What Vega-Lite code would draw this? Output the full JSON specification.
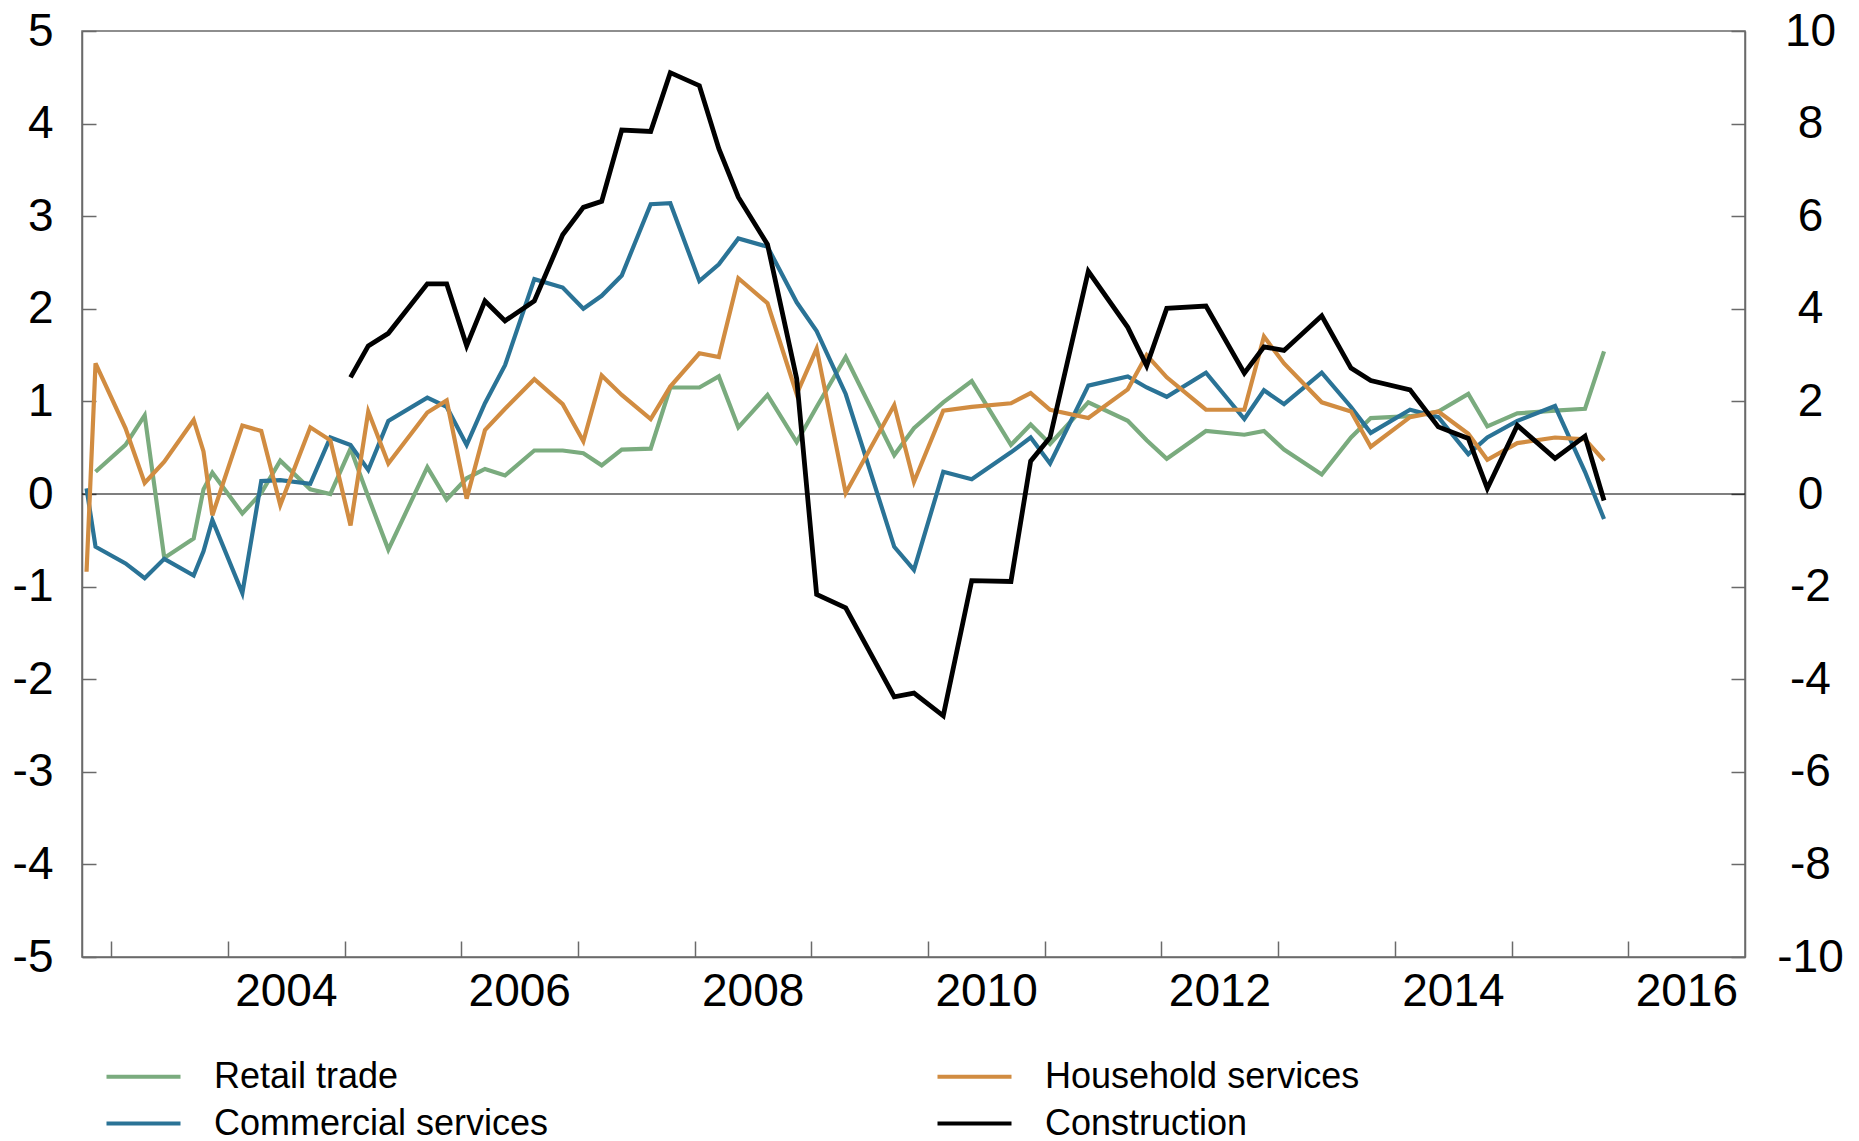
{
  "$schema": "https://vega.github.io/schema/vega-lite/v6.json",
  "width": 1663,
  "height": 926,
  "autosize": {"type": "none"},
  "padding": {"left": 82, "top": 31, "right": 114, "bottom": 184},
  "background": "white",
  "config": {
    "font": "Liberation Sans",
    "view": {"stroke": "#6a6a6a", "strokeWidth": 1.5},
    "axis": {
      "grid": false,
      "domainColor": "#6a6a6a",
      "domainWidth": 1.5,
      "tickColor": "#6a6a6a",
      "tickWidth": 1.5,
      "labelFont": "Liberation Sans",
      "labelFontSize": 46,
      "labelColor": "#000000",
      "labelFlush": false,
      "labelOverlap": false,
      "title": null
    }
  },
  "datasets": {
    "left": [
      {"series": "Retail trade", "year": 2002.866, "value": 0.24},
      {"series": "Retail trade", "year": 2003.123, "value": 0.53},
      {"series": "Retail trade", "year": 2003.287, "value": 0.85},
      {"series": "Retail trade", "year": 2003.455, "value": -0.69},
      {"series": "Retail trade", "year": 2003.707, "value": -0.48},
      {"series": "Retail trade", "year": 2003.791, "value": 0.05},
      {"series": "Retail trade", "year": 2003.867, "value": 0.23},
      {"series": "Retail trade", "year": 2004.124, "value": -0.21},
      {"series": "Retail trade", "year": 2004.286, "value": 0.01},
      {"series": "Retail trade", "year": 2004.449, "value": 0.36},
      {"series": "Retail trade", "year": 2004.706, "value": 0.05},
      {"series": "Retail trade", "year": 2004.878, "value": 0.0},
      {"series": "Retail trade", "year": 2005.051, "value": 0.49},
      {"series": "Retail trade", "year": 2005.203, "value": -0.03},
      {"series": "Retail trade", "year": 2005.375, "value": -0.6},
      {"series": "Retail trade", "year": 2005.709, "value": 0.29},
      {"series": "Retail trade", "year": 2005.875, "value": -0.06},
      {"series": "Retail trade", "year": 2006.046, "value": 0.17},
      {"series": "Retail trade", "year": 2006.203, "value": 0.27},
      {"series": "Retail trade", "year": 2006.375, "value": 0.2},
      {"series": "Retail trade", "year": 2006.626, "value": 0.47},
      {"series": "Retail trade", "year": 2006.869, "value": 0.47},
      {"series": "Retail trade", "year": 2007.046, "value": 0.44},
      {"series": "Retail trade", "year": 2007.203, "value": 0.31},
      {"series": "Retail trade", "year": 2007.375, "value": 0.48},
      {"series": "Retail trade", "year": 2007.623, "value": 0.49},
      {"series": "Retail trade", "year": 2007.791, "value": 1.15},
      {"series": "Retail trade", "year": 2008.04, "value": 1.15},
      {"series": "Retail trade", "year": 2008.207, "value": 1.27},
      {"series": "Retail trade", "year": 2008.374, "value": 0.72},
      {"series": "Retail trade", "year": 2008.624, "value": 1.07},
      {"series": "Retail trade", "year": 2008.874, "value": 0.56},
      {"series": "Retail trade", "year": 2009.045, "value": 0.94},
      {"series": "Retail trade", "year": 2009.294, "value": 1.48},
      {"series": "Retail trade", "year": 2009.71, "value": 0.42},
      {"series": "Retail trade", "year": 2009.879, "value": 0.71},
      {"series": "Retail trade", "year": 2010.13, "value": 0.99},
      {"series": "Retail trade", "year": 2010.374, "value": 1.22},
      {"series": "Retail trade", "year": 2010.71, "value": 0.53},
      {"series": "Retail trade", "year": 2010.879, "value": 0.75},
      {"series": "Retail trade", "year": 2011.045, "value": 0.54},
      {"series": "Retail trade", "year": 2011.373, "value": 0.99},
      {"series": "Retail trade", "year": 2011.711, "value": 0.79},
      {"series": "Retail trade", "year": 2011.873, "value": 0.58},
      {"series": "Retail trade", "year": 2012.045, "value": 0.38},
      {"series": "Retail trade", "year": 2012.381, "value": 0.68},
      {"series": "Retail trade", "year": 2012.71, "value": 0.64},
      {"series": "Retail trade", "year": 2012.878, "value": 0.68},
      {"series": "Retail trade", "year": 2013.05, "value": 0.48},
      {"series": "Retail trade", "year": 2013.373, "value": 0.21},
      {"series": "Retail trade", "year": 2013.624, "value": 0.61},
      {"series": "Retail trade", "year": 2013.793, "value": 0.82},
      {"series": "Retail trade", "year": 2014.13, "value": 0.84},
      {"series": "Retail trade", "year": 2014.372, "value": 0.89},
      {"series": "Retail trade", "year": 2014.629, "value": 1.08},
      {"series": "Retail trade", "year": 2014.792, "value": 0.73},
      {"series": "Retail trade", "year": 2015.049, "value": 0.87},
      {"series": "Retail trade", "year": 2015.372, "value": 0.9},
      {"series": "Retail trade", "year": 2015.629, "value": 0.92},
      {"series": "Retail trade", "year": 2015.792, "value": 1.54},

      {"series": "Commercial services", "year": 2002.789, "value": 0.06},
      {"series": "Commercial services", "year": 2002.866, "value": -0.57},
      {"series": "Commercial services", "year": 2003.123, "value": -0.75},
      {"series": "Commercial services", "year": 2003.287, "value": -0.91},
      {"series": "Commercial services", "year": 2003.455, "value": -0.7},
      {"series": "Commercial services", "year": 2003.707, "value": -0.88},
      {"series": "Commercial services", "year": 2003.791, "value": -0.62},
      {"series": "Commercial services", "year": 2003.867, "value": -0.28},
      {"series": "Commercial services", "year": 2004.124, "value": -1.07},
      {"series": "Commercial services", "year": 2004.286, "value": 0.14},
      {"series": "Commercial services", "year": 2004.449, "value": 0.15},
      {"series": "Commercial services", "year": 2004.706, "value": 0.11},
      {"series": "Commercial services", "year": 2004.878, "value": 0.61},
      {"series": "Commercial services", "year": 2005.051, "value": 0.53},
      {"series": "Commercial services", "year": 2005.203, "value": 0.26},
      {"series": "Commercial services", "year": 2005.375, "value": 0.79},
      {"series": "Commercial services", "year": 2005.709, "value": 1.04},
      {"series": "Commercial services", "year": 2005.875, "value": 0.94},
      {"series": "Commercial services", "year": 2006.046, "value": 0.53},
      {"series": "Commercial services", "year": 2006.203, "value": 0.98},
      {"series": "Commercial services", "year": 2006.375, "value": 1.39},
      {"series": "Commercial services", "year": 2006.626, "value": 2.32},
      {"series": "Commercial services", "year": 2006.869, "value": 2.23},
      {"series": "Commercial services", "year": 2007.046, "value": 2.0},
      {"series": "Commercial services", "year": 2007.203, "value": 2.14},
      {"series": "Commercial services", "year": 2007.375, "value": 2.36},
      {"series": "Commercial services", "year": 2007.623, "value": 3.13},
      {"series": "Commercial services", "year": 2007.791, "value": 3.14},
      {"series": "Commercial services", "year": 2008.04, "value": 2.3},
      {"series": "Commercial services", "year": 2008.207, "value": 2.48},
      {"series": "Commercial services", "year": 2008.374, "value": 2.76},
      {"series": "Commercial services", "year": 2008.624, "value": 2.67},
      {"series": "Commercial services", "year": 2008.874, "value": 2.07},
      {"series": "Commercial services", "year": 2009.045, "value": 1.76},
      {"series": "Commercial services", "year": 2009.294, "value": 1.08},
      {"series": "Commercial services", "year": 2009.71, "value": -0.57},
      {"series": "Commercial services", "year": 2009.879, "value": -0.82},
      {"series": "Commercial services", "year": 2010.13, "value": 0.24},
      {"series": "Commercial services", "year": 2010.374, "value": 0.16},
      {"series": "Commercial services", "year": 2010.71, "value": 0.45},
      {"series": "Commercial services", "year": 2010.879, "value": 0.61},
      {"series": "Commercial services", "year": 2011.045, "value": 0.33},
      {"series": "Commercial services", "year": 2011.373, "value": 1.17},
      {"series": "Commercial services", "year": 2011.711, "value": 1.27},
      {"series": "Commercial services", "year": 2011.873, "value": 1.15},
      {"series": "Commercial services", "year": 2012.045, "value": 1.05},
      {"series": "Commercial services", "year": 2012.381, "value": 1.31},
      {"series": "Commercial services", "year": 2012.71, "value": 0.81},
      {"series": "Commercial services", "year": 2012.878, "value": 1.12},
      {"series": "Commercial services", "year": 2013.05, "value": 0.97},
      {"series": "Commercial services", "year": 2013.373, "value": 1.31},
      {"series": "Commercial services", "year": 2013.624, "value": 0.94},
      {"series": "Commercial services", "year": 2013.793, "value": 0.66},
      {"series": "Commercial services", "year": 2014.13, "value": 0.91},
      {"series": "Commercial services", "year": 2014.372, "value": 0.83},
      {"series": "Commercial services", "year": 2014.629, "value": 0.43},
      {"series": "Commercial services", "year": 2014.792, "value": 0.61},
      {"series": "Commercial services", "year": 2015.049, "value": 0.79},
      {"series": "Commercial services", "year": 2015.372, "value": 0.95},
      {"series": "Commercial services", "year": 2015.629, "value": 0.24},
      {"series": "Commercial services", "year": 2015.792, "value": -0.27},

      {"series": "Household services", "year": 2002.789, "value": -0.84},
      {"series": "Household services", "year": 2002.866, "value": 1.41},
      {"series": "Household services", "year": 2003.123, "value": 0.71},
      {"series": "Household services", "year": 2003.287, "value": 0.12},
      {"series": "Household services", "year": 2003.455, "value": 0.35},
      {"series": "Household services", "year": 2003.707, "value": 0.8},
      {"series": "Household services", "year": 2003.791, "value": 0.46},
      {"series": "Household services", "year": 2003.867, "value": -0.23},
      {"series": "Household services", "year": 2004.124, "value": 0.74},
      {"series": "Household services", "year": 2004.286, "value": 0.68},
      {"series": "Household services", "year": 2004.449, "value": -0.12},
      {"series": "Household services", "year": 2004.706, "value": 0.72},
      {"series": "Household services", "year": 2004.878, "value": 0.58},
      {"series": "Household services", "year": 2005.051, "value": -0.34},
      {"series": "Household services", "year": 2005.203, "value": 0.89},
      {"series": "Household services", "year": 2005.375, "value": 0.33},
      {"series": "Household services", "year": 2005.709, "value": 0.88},
      {"series": "Household services", "year": 2005.875, "value": 1.01},
      {"series": "Household services", "year": 2006.046, "value": -0.05},
      {"series": "Household services", "year": 2006.203, "value": 0.69},
      {"series": "Household services", "year": 2006.375, "value": 0.92},
      {"series": "Household services", "year": 2006.626, "value": 1.24},
      {"series": "Household services", "year": 2006.869, "value": 0.97},
      {"series": "Household services", "year": 2007.046, "value": 0.57},
      {"series": "Household services", "year": 2007.203, "value": 1.28},
      {"series": "Household services", "year": 2007.375, "value": 1.07},
      {"series": "Household services", "year": 2007.623, "value": 0.81},
      {"series": "Household services", "year": 2007.791, "value": 1.16},
      {"series": "Household services", "year": 2008.04, "value": 1.52},
      {"series": "Household services", "year": 2008.207, "value": 1.48},
      {"series": "Household services", "year": 2008.374, "value": 2.33},
      {"series": "Household services", "year": 2008.624, "value": 2.06},
      {"series": "Household services", "year": 2008.874, "value": 1.08},
      {"series": "Household services", "year": 2009.045, "value": 1.57},
      {"series": "Household services", "year": 2009.294, "value": 0.01},
      {"series": "Household services", "year": 2009.71, "value": 0.96},
      {"series": "Household services", "year": 2009.879, "value": 0.13},
      {"series": "Household services", "year": 2010.13, "value": 0.9},
      {"series": "Household services", "year": 2010.374, "value": 0.94},
      {"series": "Household services", "year": 2010.71, "value": 0.98},
      {"series": "Household services", "year": 2010.879, "value": 1.09},
      {"series": "Household services", "year": 2011.045, "value": 0.91},
      {"series": "Household services", "year": 2011.373, "value": 0.82},
      {"series": "Household services", "year": 2011.711, "value": 1.13},
      {"series": "Household services", "year": 2011.873, "value": 1.5},
      {"series": "Household services", "year": 2012.045, "value": 1.26},
      {"series": "Household services", "year": 2012.381, "value": 0.91},
      {"series": "Household services", "year": 2012.71, "value": 0.91},
      {"series": "Household services", "year": 2012.878, "value": 1.7},
      {"series": "Household services", "year": 2013.05, "value": 1.41},
      {"series": "Household services", "year": 2013.373, "value": 0.99},
      {"series": "Household services", "year": 2013.624, "value": 0.89},
      {"series": "Household services", "year": 2013.793, "value": 0.51},
      {"series": "Household services", "year": 2014.13, "value": 0.83},
      {"series": "Household services", "year": 2014.372, "value": 0.89},
      {"series": "Household services", "year": 2014.629, "value": 0.65},
      {"series": "Household services", "year": 2014.792, "value": 0.37},
      {"series": "Household services", "year": 2015.049, "value": 0.55},
      {"series": "Household services", "year": 2015.372, "value": 0.61},
      {"series": "Household services", "year": 2015.629, "value": 0.59},
      {"series": "Household services", "year": 2015.792, "value": 0.36}
    ],
    "right": [
      {"series": "Construction", "year": 2005.051, "value": 2.52},
      {"series": "Construction", "year": 2005.203, "value": 3.2},
      {"series": "Construction", "year": 2005.375, "value": 3.47},
      {"series": "Construction", "year": 2005.709, "value": 4.54},
      {"series": "Construction", "year": 2005.875, "value": 4.54},
      {"series": "Construction", "year": 2006.046, "value": 3.2},
      {"series": "Construction", "year": 2006.203, "value": 4.17},
      {"series": "Construction", "year": 2006.375, "value": 3.74},
      {"series": "Construction", "year": 2006.626, "value": 4.17},
      {"series": "Construction", "year": 2006.869, "value": 5.6},
      {"series": "Construction", "year": 2007.046, "value": 6.19},
      {"series": "Construction", "year": 2007.203, "value": 6.32},
      {"series": "Construction", "year": 2007.375, "value": 7.86},
      {"series": "Construction", "year": 2007.623, "value": 7.83},
      {"series": "Construction", "year": 2007.791, "value": 9.1},
      {"series": "Construction", "year": 2008.04, "value": 8.82},
      {"series": "Construction", "year": 2008.207, "value": 7.46},
      {"series": "Construction", "year": 2008.374, "value": 6.41},
      {"series": "Construction", "year": 2008.624, "value": 5.39},
      {"series": "Construction", "year": 2008.874, "value": 2.49},
      {"series": "Construction", "year": 2009.045, "value": -2.17},
      {"series": "Construction", "year": 2009.294, "value": -2.46},
      {"series": "Construction", "year": 2009.71, "value": -4.38},
      {"series": "Construction", "year": 2009.879, "value": -4.3},
      {"series": "Construction", "year": 2010.13, "value": -4.79},
      {"series": "Construction", "year": 2010.374, "value": -1.87},
      {"series": "Construction", "year": 2010.71, "value": -1.89},
      {"series": "Construction", "year": 2010.879, "value": 0.71},
      {"series": "Construction", "year": 2011.045, "value": 1.22},
      {"series": "Construction", "year": 2011.373, "value": 4.81},
      {"series": "Construction", "year": 2011.711, "value": 3.6},
      {"series": "Construction", "year": 2011.873, "value": 2.77},
      {"series": "Construction", "year": 2012.045, "value": 4.01},
      {"series": "Construction", "year": 2012.381, "value": 4.06},
      {"series": "Construction", "year": 2012.71, "value": 2.61},
      {"series": "Construction", "year": 2012.878, "value": 3.18},
      {"series": "Construction", "year": 2013.05, "value": 3.1},
      {"series": "Construction", "year": 2013.373, "value": 3.85},
      {"series": "Construction", "year": 2013.624, "value": 2.72},
      {"series": "Construction", "year": 2013.793, "value": 2.45},
      {"series": "Construction", "year": 2014.13, "value": 2.25},
      {"series": "Construction", "year": 2014.372, "value": 1.45},
      {"series": "Construction", "year": 2014.629, "value": 1.2},
      {"series": "Construction", "year": 2014.792, "value": 0.12},
      {"series": "Construction", "year": 2015.049, "value": 1.48},
      {"series": "Construction", "year": 2015.372, "value": 0.77},
      {"series": "Construction", "year": 2015.629, "value": 1.25},
      {"series": "Construction", "year": 2015.792, "value": -0.14}
    ]
  },
  "layer": [
    {
      "layer": [
        {
          "data": {"values": [{}]},
          "mark": {"type": "rule", "color": "#000000", "strokeWidth": 1.2},
          "encoding": {
            "y": {"datum": 0, "type": "quantitative"}
          }
        },
        {
          "data": {"name": "left"},
          "mark": {"type": "line", "strokeWidth": 4.2, "strokeJoin": "miter"},
          "encoding": {
            "x": {
              "field": "year",
              "type": "quantitative",
              "scale": {"domain": [2002.75, 2017], "nice": false, "zero": false},
              "axis": {
                "orient": "bottom",
                "values": [2003, 2004, 2005, 2006, 2007, 2008, 2009, 2010, 2011, 2012, 2013, 2014, 2015, 2016],
                "labelExpr": "datum.value % 2 == 0 ? '' + datum.value : ''",
                "labelOffset": 58,
                "tickSize": -16,
                "labelPadding": 28,
                "labelAlign": "center"
              }
            },
            "y": {
              "field": "value",
              "type": "quantitative",
              "scale": {"domain": [-5, 5], "nice": false, "zero": false},
              "axis": {
                "orient": "left",
                "values": [-5, -4, -3, -2, -1, 0, 1, 2, 3, 4, 5],
                "labelExpr": "'' + datum.value",
                "tickSize": -14,
                "labelPadding": 43
              }
            },
            "color": {
              "field": "series",
              "type": "nominal",
              "scale": {
                "domain": ["Retail trade", "Commercial services", "Household services", "Construction"],
                "range": ["#7aab7e", "#2a7396", "#d18c41", "#000000"]
              },
              "legend": {
                "orient": "none",
                "legendX": 41,
                "legendY": 1025,
                "columns": 2,
                "columnPadding": 380,
                "rowPadding": 8,
                "padding": 0,
                "symbolType": "M-2,0H2",
                "symbolStrokeWidth": 4,
                "symbolSize": 1369,
                "labelFont": "Liberation Sans",
                "labelFontSize": 36,
                "labelColor": "#000000",
                "labelOffset": 50,
                "labelLimit": 600,
                "title": null
              }
            }
          }
        }
      ]
    },
    {
      "data": {"name": "right"},
      "mark": {"type": "line", "strokeWidth": 4.8, "strokeJoin": "miter"},
      "encoding": {
        "x": {"field": "year", "type": "quantitative"},
        "y": {
          "field": "value",
          "type": "quantitative",
          "scale": {"domain": [-10, 10], "nice": false, "zero": false},
          "axis": {
            "orient": "right",
            "values": [-10, -8, -6, -4, -2, 0, 2, 4, 6, 8, 10],
            "labelExpr": "'' + datum.value",
            "labelAlign": "center",
            "tickSize": -14,
            "labelPadding": 79
          }
        },
        "color": {
          "field": "series",
          "type": "nominal",
          "scale": {
            "domain": ["Retail trade", "Commercial services", "Household services", "Construction"],
            "range": ["#7aab7e", "#2a7396", "#d18c41", "#000000"]
          }
        }
      }
    }
  ],
  "resolve": {"scale": {"y": "independent"}}
}
